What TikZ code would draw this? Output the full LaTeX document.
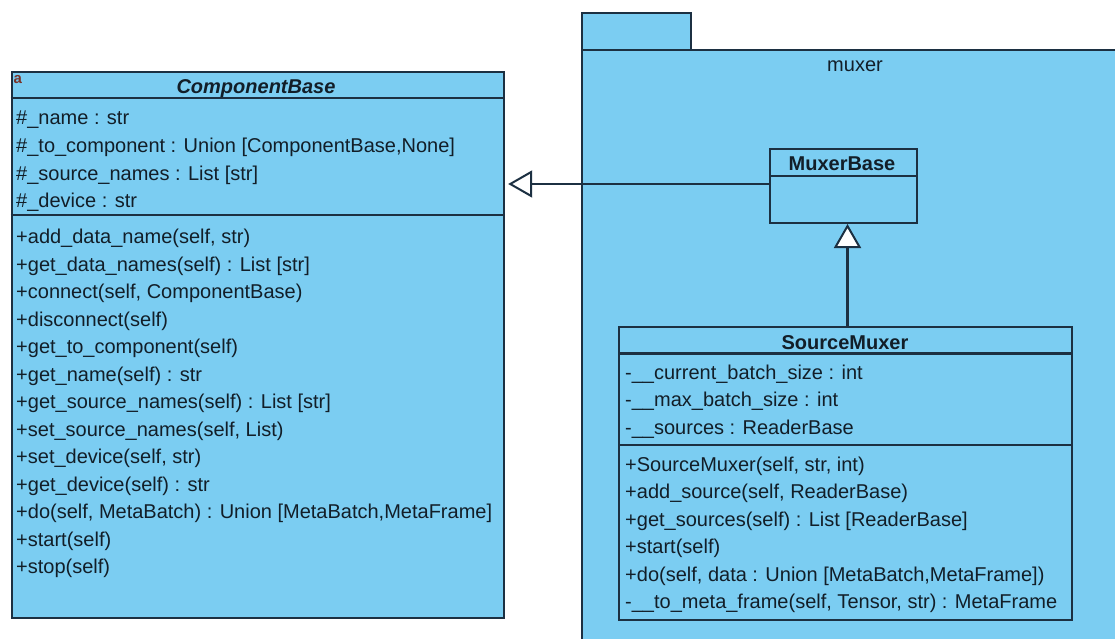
\documentclass[tikz,border=0pt]{standalone}
\usepackage{fontspec}
\setmainfont{Liberation Sans}
\usetikzlibrary{arrows.meta}

\definecolor{umlfill}{RGB}{123,205,242}
\definecolor{umlline}{RGB}{28,48,66}
\definecolor{umltext}{RGB}{18,30,40}
\definecolor{abstractmark}{RGB}{120,50,40}

\tikzset{
  classbox/.style={draw=umlline, fill=umlfill, line width=2.2pt, inner sep=0pt, anchor=north west},
  sepline/.style={draw=umlline, line width=2.2pt},
  row/.style={anchor=base west, inner sep=0pt, text=umltext, font=\fontsize{20}{24}\selectfont},
  ctitle/.style={anchor=base, inner sep=0pt, text=umltext, font=\fontsize{20}{24}\selectfont\bfseries},
  genarrow/.style={draw=umlline, line width=2.2pt,
    -{Triangle[open, fill=white, length=24pt, width=27pt, line width=2pt]}},
}

\begin{document}
\begin{tikzpicture}[x=1pt, y=-1pt]
\useasboundingbox (0,0) rectangle (1115,639);
\fill[white] (0,0) rectangle (1115,639);
\clip (0,0) rectangle (1115,639);

% package "muxer": tab and body
\draw[draw=umlline, fill=umlfill, line width=2.2pt] (582,13) rectangle (691,50);
\draw[draw=umlline, fill=umlfill, line width=2.2pt] (582,50) rectangle (1130,660);
\node[anchor=base, inner sep=0pt, text=umltext, font=\fontsize{20}{24}\selectfont] (pkg) at (855,72) {muxer};

% class ComponentBase
\node[classbox, minimum width=492.5pt, minimum height=546pt] (cb) at (10.5,71) {};
\draw[sepline] (cb.west |- 0,98) -- (cb.east |- 0,98);
\draw[sepline] (cb.west |- 0,215) -- (cb.east |- 0,215);
\node[anchor=base west, inner sep=0pt, text=abstractmark, font=\fontsize{15}{18}\selectfont\bfseries] (cbmark) at (13.5,84) {a};
\node[ctitle, font=\fontsize{20}{24}\selectfont\bfseries\itshape] (cbt) at (256,93.5) {ComponentBase};
\node[row] (cba1) at (16,125) {\#\_name : str};
\node[row] (cba2) at (16,152.5) {\#\_to\_component : Union [ComponentBase,None]};
\node[row] (cba3) at (16,180) {\#\_source\_names : List [str]};
\node[row] (cba4) at (16,207.5) {\#\_device : str};
\node[row] (cbm1) at (16,243.5) {+add\_data\_name(self, str)};
\node[row] (cbm2) at (16,271) {+get\_data\_names(self) : List [str]};
\node[row] (cbm3) at (16,298.5) {+connect(self, ComponentBase)};
\node[row] (cbm4) at (16,326) {+disconnect(self)};
\node[row] (cbm5) at (16,353.5) {+get\_to\_component(self)};
\node[row] (cbm6) at (16,381) {+get\_name(self) : str};
\node[row] (cbm7) at (16,408.5) {+get\_source\_names(self) : List [str]};
\node[row] (cbm8) at (16,436) {+set\_source\_names(self, List)};
\node[row] (cbm9) at (16,463.5) {+set\_device(self, str)};
\node[row] (cbm10) at (16,491) {+get\_device(self) : str};
\node[row] (cbm11) at (16,518.5) {+do(self, MetaBatch) : Union [MetaBatch,MetaFrame]};
\node[row] (cbm12) at (16,546) {+start(self)};
\node[row] (cbm13) at (16,573.5) {+stop(self)};

% class MuxerBase
\node[classbox, minimum width=147pt, minimum height=73.5pt] (mb) at (769,148.3) {};
\draw[sepline] (mb.west |- 0,175.7) -- (mb.east |- 0,175.7);
\node[ctitle] (mbt) at (842,170.7) {MuxerBase};

% class SourceMuxer
\node[classbox, minimum width=453pt, minimum height=293pt] (sm) at (618,326) {};
\draw[sepline] (sm.west |- 0,353.5) -- (sm.east |- 0,353.5);
\draw[sepline] (sm.west |- 0,445) -- (sm.east |- 0,445);
\node[ctitle] (smt) at (845,349) {SourceMuxer};
\node[row] (sma1) at (625,379) {-\_\_current\_batch\_size : int};
\node[row] (sma2) at (625,406.5) {-\_\_max\_batch\_size : int};
\node[row] (sma3) at (625,434) {-\_\_sources : ReaderBase};
\node[row] (smm1) at (625,471) {+SourceMuxer(self, str, int)};
\node[row] (smm2) at (625,498.5) {+add\_source(self, ReaderBase)};
\node[row] (smm3) at (625,526) {+get\_sources(self) : List [ReaderBase]};
\node[row] (smm4) at (625,553.5) {+start(self)};
\node[row] (smm5) at (625,581) {+do(self, data : Union [MetaBatch,MetaFrame])};
\node[row] (smm6) at (625,608.5) {-\_\_to\_meta\_frame(self, Tensor, str) : MetaFrame};

% generalizations
\coordinate (hy) at (0,184);
\coordinate (vx) at (847.5,0);
\draw[genarrow] (mb.west |- hy) -- ([xshift=3pt]cb.east |- hy);
\draw[genarrow] (sm.north -| vx) -- (mb.south -| vx);
\end{tikzpicture}
\end{document}
